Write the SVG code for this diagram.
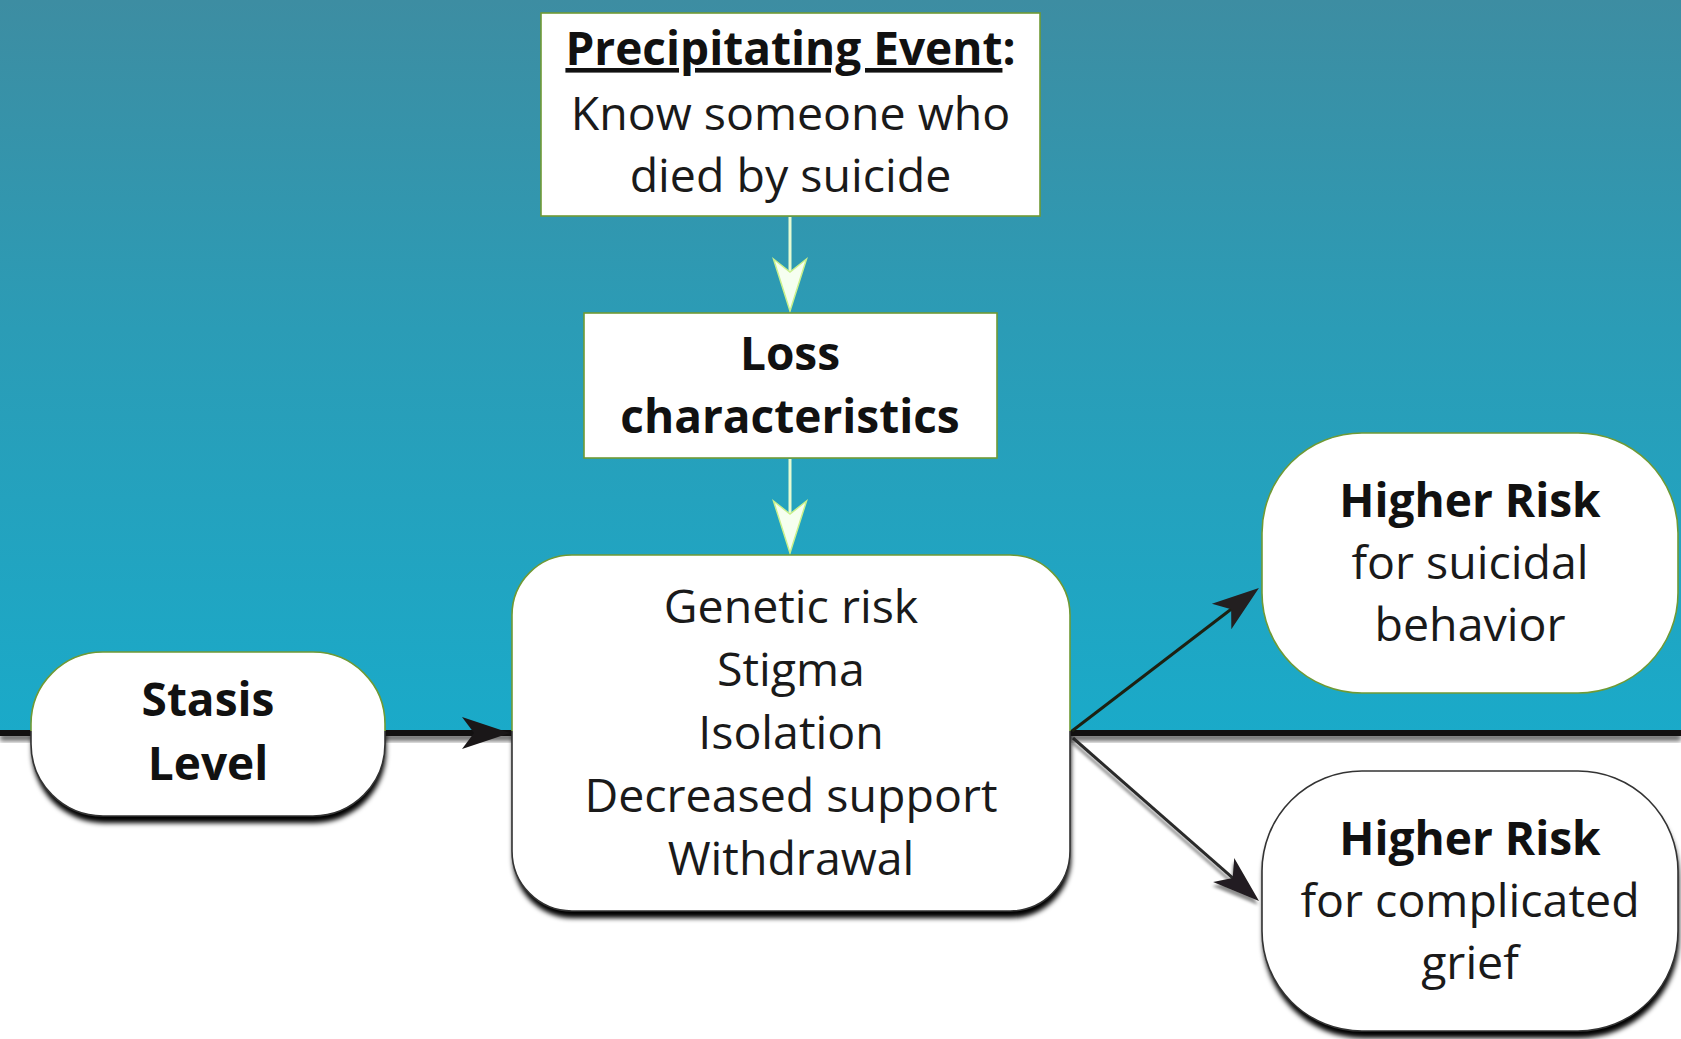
<svg xmlns="http://www.w3.org/2000/svg" width="1681" height="1039" viewBox="0 0 1681 1039">
  <defs>
    <linearGradient id="sky" x1="0" y1="0" x2="0" y2="732" gradientUnits="userSpaceOnUse">
      <stop offset="0" stop-color="#3d8da2"/>
      <stop offset="0.45" stop-color="#2b9cb6"/>
      <stop offset="1" stop-color="#1aaac9"/>
    </linearGradient>
    <linearGradient id="edge" x1="0" y1="0" x2="0" y2="1039" gradientUnits="userSpaceOnUse">
      <stop offset="0.7035" stop-color="#6f9a35"/>
      <stop offset="0.7035" stop-color="#333333"/>
    </linearGradient>
    <clipPath id="below">
      <rect x="0" y="736" width="1681" height="303"/>
    </clipPath>
    <filter id="blur" x="-10%" y="-10%" width="120%" height="130%">
      <feGaussianBlur stdDeviation="2.5"/>
    </filter>
    <filter id="lineShadow" x="-20%" y="-20%" width="140%" height="140%">
      <feDropShadow dx="-1" dy="4" stdDeviation="1.5" flood-color="#000" flood-opacity="0.45"/>
    </filter>
    <marker id="mkLight" markerUnits="userSpaceOnUse" markerWidth="60" markerHeight="40" viewBox="-45 -20 60 40" refX="0" refY="0" orient="auto" overflow="visible">
      <path d="M10,0 L-42,-16.5 L-29,0 L-42,16.5 Z" fill="#f6fff0" stroke="#c9f08c" stroke-width="1.5" stroke-linejoin="miter"/>
    </marker>
    <marker id="mkDark" markerUnits="userSpaceOnUse" markerWidth="60" markerHeight="40" viewBox="-45 -20 60 40" refX="0" refY="0" orient="auto" overflow="visible">
      <path d="M10,0 L-37,-16 L-25,0 L-37,16 Z" fill="#231f20"/>
    </marker>
    <marker id="mkBlack" markerUnits="userSpaceOnUse" markerWidth="60" markerHeight="40" viewBox="-45 -20 60 40" refX="0" refY="0" orient="auto" overflow="visible">
      <path d="M10,0 L-38,-16 L-26,0 L-38,16 Z" fill="#1a1718"/>
    </marker>
    <style>
      .box { fill: #ffffff; stroke: url(#edge); stroke-width: 1.6; }
      .sh { fill: #000; filter: url(#blur); }
      .t { font-family: "Open Sans", "Noto Sans", sans-serif; font-size: 46.5px; fill: #1a1a1a; text-anchor: middle; }
      .b { font-weight: bold; font-size: 46px; fill: #111; }
    </style>
  </defs>

  <!-- background -->
  <rect x="0" y="0" width="1681" height="732" fill="url(#sky)"/>
  <rect x="0" y="732" width="1681" height="307" fill="#ffffff"/>
  <rect x="0" y="734" width="1681" height="7" fill="#000" opacity="0.6" filter="url(#blur)"/>
  <rect x="0" y="730" width="1681" height="6" fill="#121010"/>

  <g id="connectors">
    <line x1="790" y1="217" x2="790" y2="301" stroke="#e6fbd2" stroke-width="3" marker-end="url(#mkLight)"/>
    <line x1="790" y1="459" x2="790" y2="543" stroke="#e6fbd2" stroke-width="3" marker-end="url(#mkLight)"/>
    <line x1="386" y1="733" x2="500" y2="733" stroke="#121010" stroke-width="6" marker-end="url(#mkBlack)"/>
    <line x1="1072" y1="731" x2="1251" y2="594" stroke="#1d2112" stroke-width="3" marker-end="url(#mkDark)"/>
    <g filter="url(#lineShadow)">
      <line x1="1073" y1="738" x2="1251.5" y2="894.4" stroke="#2a2a2a" stroke-width="3" marker-end="url(#mkDark)"/>
    </g>
  </g>

  <g id="node-precipitating">
    <rect class="box" x="541" y="13" width="499" height="203"/>
    <text class="t b" x="790.5" y="65"><tspan text-decoration="underline">Precipitating Event</tspan>:</text>
    <text class="t" x="790.5" y="130">Know someone who</text>
    <text class="t" x="790.5" y="192">died by suicide</text>
  </g>

  <g id="node-loss">
    <rect class="box" x="584" y="313" width="413" height="145"/>
    <text class="t b" x="790" y="370">Loss</text>
    <text class="t b" x="790" y="433">characteristics</text>
  </g>

  <g id="node-factors">
    <g clip-path="url(#below)">
      <rect class="sh" x="513" y="562" width="558" height="356" rx="60"/>
    </g>
    <rect class="box" x="512" y="555" width="558" height="356" rx="60"/>
    <text class="t" x="791" y="623">Genetic risk</text>
    <text class="t" x="791" y="686">Stigma</text>
    <text class="t" x="791" y="749">Isolation</text>
    <text class="t" x="791" y="812">Decreased support</text>
    <text class="t" x="791" y="875">Withdrawal</text>
  </g>

  <g id="node-stasis">
    <g clip-path="url(#below)">
      <rect class="sh" x="32" y="659" width="354" height="164" rx="72"/>
    </g>
    <rect class="box" x="31" y="652" width="354" height="164" rx="72"/>
    <text class="t b" x="208" y="716">Stasis</text>
    <text class="t b" x="208" y="780">Level</text>
  </g>

  <g id="node-risk-suicidal">
    <rect class="box" x="1262" y="433" width="416" height="260" rx="100"/>
    <text class="t b" x="1470" y="517">Higher Risk</text>
    <text class="t" x="1470" y="579">for suicidal</text>
    <text class="t" x="1470" y="641">behavior</text>
  </g>

  <g id="node-risk-grief">
    <rect class="sh" x="1263" y="778" width="416" height="260" rx="100"/>
    <rect class="box" x="1262" y="771" width="416" height="260" rx="100"/>
    <text class="t b" x="1470" y="855">Higher Risk</text>
    <text class="t" x="1470" y="917">for complicated</text>
    <text class="t" x="1470" y="979">grief</text>
  </g>
</svg>
